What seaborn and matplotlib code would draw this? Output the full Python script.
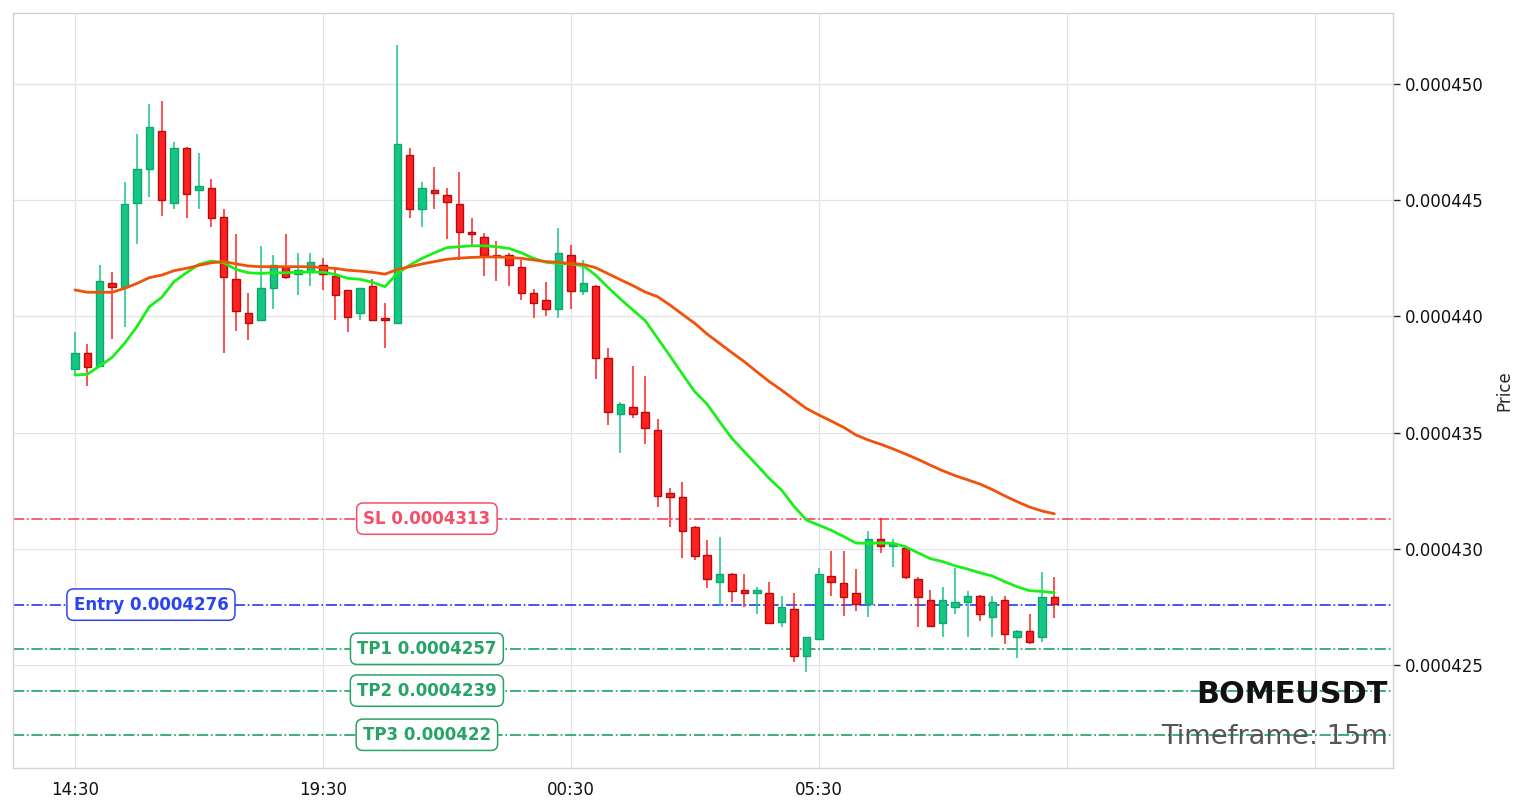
import numpy as np
import pandas as pd
import seaborn as sns
import matplotlib.pyplot as plt
from matplotlib.ticker import FixedLocator, FuncFormatter
import matplotlib.transforms as mtransforms

sns.set_theme(style="whitegrid")
plt.rcParams['font.family'] = ['DejaVu Sans']

symbol = 'BOMEUSDT'
timeframe = '15m'
start_time = '2024-01-01 14:30'

# prices are in units of 1e-6 USDT
opens = [437.72, 438.41, 437.87, 441.44, 441.27, 444.89, 446.33, 448.00, 444.89, 447.23,
         445.42, 445.51, 444.30, 441.60, 440.13, 439.83, 441.21, 442.11, 441.82, 441.92,
         442.20, 441.72, 441.12, 440.13, 441.29, 439.92, 439.70, 446.93, 444.61, 445.42,
         445.21, 444.82, 443.62, 443.40, 442.66, 442.63, 442.11, 441.00, 440.71, 440.31,
         442.63, 441.11, 441.31, 438.20, 435.79, 436.09, 435.90, 435.11, 432.39, 432.21,
         430.92, 429.72, 428.59, 428.92, 428.23, 428.08, 428.08, 426.87, 427.40, 425.40,
         426.11, 428.82, 428.51, 428.08, 427.62, 430.41, 430.12, 430.02, 428.70, 427.80,
         426.79, 427.48, 427.70, 427.98, 427.08, 427.80, 426.19, 426.48, 426.19, 427.91]
highs = [439.31, 438.80, 442.20, 441.90, 445.80, 447.83, 449.12, 449.28, 447.52, 447.30,
         447.02, 445.90, 444.61, 443.53, 441.00, 443.03, 442.63, 443.53, 442.71, 442.71,
         442.50, 442.11, 441.13, 441.24, 441.60, 440.60, 451.68, 447.23, 445.80, 446.41,
         445.51, 446.20, 444.22, 443.57, 443.23, 442.71, 442.43, 441.16, 441.49, 443.82,
         443.09, 442.43, 441.35, 438.63, 436.30, 437.88, 437.44, 435.59, 432.60, 432.89,
         430.99, 430.38, 430.49, 428.95, 428.90, 428.37, 428.59, 427.98, 428.08, 426.22,
         429.19, 429.91, 429.91, 429.12, 430.78, 431.31, 430.41, 430.09, 428.77, 428.23,
         428.37, 429.19, 428.20, 428.01, 427.98, 427.98, 426.51, 427.18, 428.99, 428.80]
lows = [437.48, 437.01, 437.84, 439.03, 439.56, 443.11, 445.12, 444.32, 444.61, 444.25,
        444.61, 443.86, 438.41, 439.39, 439.00, 439.82, 440.30, 441.60, 440.91, 441.29,
        441.12, 439.84, 439.31, 439.84, 439.82, 438.63, 439.70, 444.22, 443.86, 444.61,
        443.33, 442.43, 443.04, 441.72, 441.52, 441.29, 440.71, 439.95, 440.02, 439.93,
        440.31, 440.92, 437.31, 435.33, 434.11, 435.61, 434.50, 431.79, 430.92, 429.59,
        429.52, 428.30, 427.54, 427.73, 427.51, 427.20, 426.77, 426.65, 425.12, 424.69,
        426.08, 427.98, 427.11, 427.32, 427.08, 429.81, 429.23, 428.70, 426.62, 426.62,
        426.22, 427.19, 426.22, 426.89, 426.22, 425.90, 425.29, 425.90, 426.00, 427.01]
closes = [438.41, 437.81, 441.51, 441.28, 444.84, 446.33, 448.14, 444.99, 447.23, 445.28,
          445.60, 444.22, 441.71, 440.22, 439.70, 441.21, 442.20, 441.71, 442.02, 442.34,
          441.82, 440.91, 439.99, 441.21, 439.83, 439.83, 447.40, 444.61, 445.51, 445.30,
          444.91, 443.62, 443.53, 442.63, 442.60, 442.20, 441.00, 440.60, 440.31, 442.71,
          441.11, 441.42, 438.20, 435.90, 436.23, 435.79, 435.21, 432.29, 432.21, 430.78,
          429.70, 428.69, 428.92, 428.20, 428.08, 428.23, 426.79, 427.48, 425.40, 426.19,
          428.92, 428.59, 427.91, 427.62, 430.41, 430.12, 430.21, 428.80, 427.91, 426.69,
          427.80, 427.70, 427.98, 427.19, 427.70, 426.32, 426.48, 426.00, 427.91, 427.62]
ema_fast = [437.48, 437.51, 437.87, 438.24, 438.84, 439.56, 440.42, 440.82, 441.50, 441.88,
            442.24, 442.38, 442.31, 442.02, 441.88, 441.85, 441.88, 441.88, 441.90, 441.92,
            441.90, 441.81, 441.64, 441.60, 441.47, 441.28, 441.85, 442.21, 442.50, 442.74,
            442.96, 443.00, 443.04, 443.04, 443.00, 442.93, 442.74, 442.50, 442.33, 442.28,
            442.26, 442.18, 441.78, 441.25, 440.75, 440.28, 439.82, 439.06, 438.30, 437.52,
            436.76, 436.22, 435.47, 434.75, 434.18, 433.61, 433.03, 432.53, 431.83, 431.24,
            431.02, 430.80, 430.53, 430.25, 430.24, 430.25, 430.24, 430.09, 429.83, 429.58,
            429.45, 429.27, 429.13, 428.97, 428.83, 428.59, 428.37, 428.20, 428.17, 428.11]
ema_slow = [441.14, 441.04, 441.04, 441.04, 441.21, 441.42, 441.67, 441.78, 441.97, 442.07,
            442.20, 442.31, 442.36, 442.26, 442.17, 442.14, 442.14, 442.14, 442.14, 442.14,
            442.10, 442.07, 441.99, 441.95, 441.90, 441.82, 442.02, 442.14, 442.26, 442.36,
            442.46, 442.51, 442.54, 442.56, 442.56, 442.54, 442.50, 442.43, 442.36, 442.33,
            442.28, 442.24, 442.10, 441.84, 441.58, 441.33, 441.05, 440.85, 440.49, 440.09,
            439.70, 439.24, 438.84, 438.44, 438.05, 437.62, 437.20, 436.83, 436.43, 436.04,
            435.76, 435.50, 435.23, 434.90, 434.68, 434.50, 434.30, 434.08, 433.85, 433.60,
            433.36, 433.15, 432.97, 432.79, 432.55, 432.28, 432.03, 431.80, 431.63, 431.51]

entry = 0.0004276
stop_loss = 0.0004313
take_profits = [0.0004257, 0.0004239, 0.000422]

scale = 1e-6
df = pd.DataFrame({'open': opens, 'high': highs, 'low': lows, 'close': closes,
                   'ema_fast': ema_fast, 'ema_slow': ema_slow}) * scale
df['time'] = pd.date_range(start_time, periods=len(df), freq='15min')
df['x'] = np.arange(len(df))

up_face, up_edge = '#16c784', '#0fa86c'
dn_face, dn_edge = '#ff2121', '#b80c0c'

fig = plt.figure(figsize=(15.23, 8.08), dpi=100)
ax = fig.add_axes([0.0085, 0.0495, 0.906, 0.9345])

up = df['close'] >= df['open']
colors = np.where(up, up_face, dn_face)
edges = np.where(up, up_edge, dn_edge)
ax.vlines(df['x'], df['low'], df['high'], colors=colors, linewidth=1.1, zorder=2)
body_bottom = df[['open', 'close']].min(axis=1)
body_height = (df['close'] - df['open']).abs().clip(lower=0.04 * scale)
ax.bar(df['x'], body_height, bottom=body_bottom, width=0.6, color=colors,
       edgecolor=edges, linewidth=1, zorder=3)

sns.lineplot(x='x', y='ema_fast', data=df, ax=ax, color='#1bef1b', linewidth=2, zorder=4)
sns.lineplot(x='x', y='ema_slow', data=df, ax=ax, color='#f0520a', linewidth=2, zorder=4)

# trade levels
trans = mtransforms.blended_transform_factory(ax.transAxes, ax.transData)
levels = [('SL', stop_loss, '#f2506a', 0.3),
          ('Entry', entry, '#2a44f2', 0.1)]
levels += [(f'TP{i + 1}', tp, '#25a466', 0.3) for i, tp in enumerate(take_profits)]
for name, val, col, xpos in levels:
    ax.axhline(val, color=col, linestyle='-.', linewidth=1.25, zorder=1)
    ax.text(xpos, val, f'{name} {val:g}', transform=trans, color=col, fontsize=12,
            fontweight='bold', ha='center', va='center', zorder=5,
            bbox=dict(boxstyle='round,pad=0.4', fc='white', ec=col, lw=1.1))

ax.text(0.9964, 0.098, symbol, transform=ax.transAxes, ha='right', va='center',
        fontsize=21.8, fontweight='bold', color='#111111')
ax.text(0.9964, 0.041, f'Timeframe: {timeframe}', transform=ax.transAxes, ha='right',
        va='center', fontsize=19.6, color='#555555')

ax.set_xlim(-5, 106.3)
ax.set_ylim(0.00042057, 0.00045306)

ticks = [0, 20, 40, 60, 80, 100]
ax.xaxis.set_major_locator(FixedLocator(ticks))
ax.set_xticklabels([df['time'][t].strftime('%H:%M') if t < len(df) else '' for t in ticks])
ax.set_yticks([0.000425, 0.000430, 0.000435, 0.000440, 0.000445, 0.000450])
ax.yaxis.set_major_formatter(FuncFormatter(lambda v, p: f'{v:.6f}'))
ax.yaxis.tick_right()
ax.yaxis.set_label_position('right')
ax.set_xlabel('')
ax.set_ylabel('Price', fontsize=12, labelpad=8)
ax.tick_params(axis='both', length=5, width=1, color='#222222', labelsize=12,
               labelcolor='#111111', pad=4)

ax.grid(True, color='#e4e4e4', linewidth=0.9)
for s in ax.spines.values():
    s.set_color('#d2d2d2')
    s.set_linewidth(1)

fig.savefig('out.png', dpi=100)
